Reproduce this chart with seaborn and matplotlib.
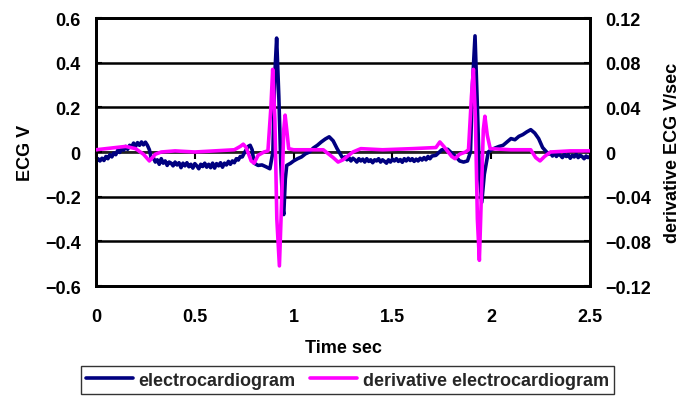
import matplotlib
matplotlib.use("Agg")
import matplotlib.pyplot as plt
import seaborn as sns
import pandas as pd

# ---- data: (time s, value) ----
ecg_beat1 = [
    (0.00, -0.045), (0.01, -0.030), (0.02, -0.040), (0.03, -0.028), (0.04, -0.038), (0.05, -0.020),
    (0.06, -0.030), (0.07, -0.012), (0.08, -0.022), (0.09, -0.005), (0.10, -0.012), (0.11, 0.008),
    (0.12, -0.002), (0.13, 0.018), (0.14, 0.008), (0.15, 0.025), (0.16, 0.012), (0.17, 0.030),
    (0.18, 0.022), (0.19, 0.040), (0.20, 0.025), (0.21, 0.042), (0.22, 0.030), (0.23, 0.045),
    (0.24, 0.032), (0.25, 0.044), (0.26, 0.030), (0.27, 0.010), (0.28, -0.030), (0.29, -0.025),
    (0.30, -0.045), (0.31, -0.035), (0.32, -0.055), (0.33, -0.030), (0.34, -0.050), (0.35, -0.040),
    (0.36, -0.060), (0.37, -0.045), (0.38, -0.050), (0.39, -0.062), (0.40, -0.045), (0.41, -0.058),
    (0.42, -0.048), (0.43, -0.070), (0.44, -0.050), (0.45, -0.062), (0.46, -0.048), (0.47, -0.066),
    (0.48, -0.055), (0.49, -0.072), (0.50, -0.052), (0.51, -0.062), (0.52, -0.075), (0.53, -0.055),
    (0.54, -0.065), (0.55, -0.050), (0.56, -0.068), (0.57, -0.055), (0.58, -0.070), (0.59, -0.050),
    (0.60, -0.072), (0.61, -0.052), (0.62, -0.062), (0.63, -0.048), (0.64, -0.068), (0.65, -0.050),
    (0.66, -0.058), (0.67, -0.042), (0.68, -0.055), (0.69, -0.040), (0.70, -0.048), (0.71, -0.030),
    (0.72, -0.036), (0.73, -0.020), (0.74, -0.022), (0.75, -0.005), (0.76, 0.010), (0.77, 0.025),
    (0.78, 0.030), (0.79, 0.010), (0.80, -0.050), (0.82, -0.060), (0.84, -0.058), (0.86, -0.066),
    (0.88, -0.075), (0.895, 0.000), (0.905, 0.350), (0.914, 0.510), (0.925, 0.250), (0.935, -0.050),
    (0.945, -0.250), (0.950, -0.280), (0.958, -0.120), (0.965, -0.060), (0.975, -0.055),
    (0.985, -0.050), (1.00, -0.040), (1.02, -0.030), (1.04, -0.022), (1.06, -0.008), (1.08, 0.000),
    (1.10, 0.018), (1.12, 0.030), (1.14, 0.045), (1.16, 0.058), (1.18, 0.068), (1.20, 0.050),
    (1.22, 0.015),
]
ecg_beat2 = [
    (1.24, -0.015), (1.25, -0.030), (1.26, -0.022), (1.27, -0.035), (1.28, -0.025), (1.29, -0.040),
    (1.30, -0.028), (1.31, -0.035), (1.32, -0.045), (1.33, -0.030), (1.34, -0.040), (1.35, -0.032),
    (1.36, -0.045), (1.37, -0.030), (1.38, -0.042), (1.39, -0.035), (1.40, -0.048), (1.41, -0.035),
    (1.42, -0.040), (1.43, -0.030), (1.44, -0.045), (1.45, -0.035), (1.46, -0.042), (1.47, -0.050),
    (1.48, -0.035), (1.49, -0.045), (1.50, -0.032), (1.51, -0.040), (1.52, -0.030), (1.53, -0.042),
    (1.54, -0.034), (1.55, -0.046), (1.56, -0.030), (1.57, -0.040), (1.58, -0.028), (1.59, -0.038),
    (1.60, -0.030), (1.61, -0.042), (1.62, -0.032), (1.63, -0.040), (1.64, -0.028), (1.65, -0.036),
    (1.66, -0.025), (1.67, -0.035), (1.68, -0.020), (1.69, -0.030), (1.70, -0.018), (1.72, -0.015),
    (1.75, 0.010), (1.78, 0.012), (1.80, -0.005), (1.82, -0.020), (1.84, -0.040), (1.86, -0.045),
    (1.88, -0.040), (1.895, 0.000), (1.905, 0.300), (1.918, 0.520), (1.93, 0.200), (1.94, -0.100),
    (1.952, -0.225), (1.965, -0.100), (1.985, 0.000), (2.00, 0.010), (2.02, 0.018), (2.04, 0.025),
    (2.06, 0.030), (2.08, 0.045), (2.10, 0.060), (2.12, 0.055), (2.14, 0.070), (2.16, 0.078),
    (2.18, 0.090), (2.20, 0.100), (2.22, 0.085), (2.24, 0.060), (2.26, 0.020), (2.28, 0.000),
    (2.29, -0.010), (2.30, -0.002), (2.31, -0.018), (2.32, -0.005), (2.33, -0.020), (2.34, -0.008),
    (2.35, -0.015), (2.36, -0.025), (2.37, -0.010), (2.38, -0.020), (2.39, -0.012), (2.40, -0.028),
    (2.41, -0.015), (2.42, -0.022), (2.43, -0.010), (2.44, -0.025), (2.45, -0.015), (2.46, -0.020),
    (2.47, -0.030), (2.48, -0.018), (2.49, -0.025), (2.50, -0.020),
]
deriv_points = [
    (0.00, 0.002), (0.05, 0.003), (0.10, 0.004), (0.15, 0.005), (0.20, 0.003), (0.24, -0.002),
    (0.27, -0.008), (0.30, -0.002), (0.33, 0.000), (0.40, 0.001), (0.50, 0.000), (0.60, 0.001),
    (0.70, 0.002), (0.73, 0.005), (0.745, 0.007), (0.76, 0.004), (0.785, -0.008), (0.80, -0.010),
    (0.82, -0.003), (0.85, 0.000), (0.87, 0.001), (0.885, 0.040), (0.894, 0.074), (0.905, 0.030),
    (0.915, -0.060), (0.928, -0.102), (0.94, -0.040), (0.95, 0.020), (0.957, 0.033), (0.965, 0.020),
    (0.975, 0.003), (1.00, 0.002), (1.10, 0.002), (1.15, 0.002), (1.20, -0.005), (1.225, -0.009),
    (1.25, -0.007), (1.30, 0.000), (1.34, 0.003), (1.45, 0.002), (1.60, 0.003), (1.72, 0.004),
    (1.74, 0.009), (1.76, 0.005), (1.80, -0.004), (1.817, -0.006), (1.84, -0.002), (1.87, 0.000),
    (1.885, 0.002), (1.90, 0.050), (1.91, 0.074), (1.92, 0.030), (1.93, -0.060), (1.94, -0.097),
    (1.95, -0.040), (1.96, 0.020), (1.968, 0.032), (1.98, 0.015), (1.995, 0.003), (2.10, 0.002),
    (2.20, 0.002), (2.225, -0.005), (2.247, -0.008), (2.27, -0.004), (2.30, 0.000), (2.40, 0.001),
    (2.50, 0.001),
]

left_ticks = [-0.6, -0.4, -0.2, 0, 0.2, 0.4, 0.6]
left_labels = ["\u22120.6", "\u22120.4", "\u22120.2", "0", "0.2", "0.4", "0.6"]
right_ticks = [-0.12, -0.08, -0.04, 0, 0.04, 0.08, 0.12]
right_labels = ["\u22120.12", "\u22120.08", "\u22120.04", "0", "0.04", "0.08", "0.12"]
x_ticks = [0, 0.5, 1, 1.5, 2, 2.5]
x_labels = ["0", "0.5", "1", "1.5", "2", "2.5"]

# ---- plot ----
sns.set_theme(style="white")
plt.rcParams["font.family"] = ["Liberation Sans", "DejaVu Sans"]
plt.rcParams["font.weight"] = "bold"
FS = 13

fig = plt.figure(figsize=(6.84, 4.06), dpi=100)
ax = fig.add_axes([0.1404, 0.2931, 0.7222, 0.6601])
ax2 = ax.twinx()

df1 = pd.DataFrame(ecg_beat1 + ecg_beat2, columns=["t", "v"])
df2 = pd.DataFrame(deriv_points, columns=["t", "v"])

ax.set_ylim(-0.6, 0.6)
ax.set_xlim(0, 2.5)
ax2.set_ylim(-0.12, 0.12)

for y in left_ticks[1:-1]:
    ax.axhline(y, color="black", lw=1.8, zorder=0)

sns.lineplot(data=df1, x="t", y="v", ax=ax, color="#000080", lw=2.6, sort=False,
             label="electrocardiogram", legend=False, zorder=3)
sns.lineplot(data=df2, x="t", y="v", ax=ax2, color="#FF00FF", lw=2.6, sort=False,
             label="derivative electrocardiogram", legend=False, zorder=4)

ax.set_yticks(left_ticks)
ax.set_yticklabels(left_labels)
ax2.set_yticks(right_ticks)
ax2.set_yticklabels(right_labels)
ax.set_xticks(x_ticks)
ax.set_xticklabels(x_labels)

for a in (ax, ax2):
    for s in a.spines.values():
        s.set_color("black")
        s.set_linewidth(2)
ax.tick_params(axis="x", length=0, pad=16, labelsize=FS, colors="black")
ax.tick_params(axis="y", direction="in", length=4, width=1.5, pad=11, labelsize=FS, colors="black")
ax2.tick_params(axis="y", direction="in", length=4, width=1.5, pad=11, labelsize=FS, colors="black")
for lab in ax.get_xticklabels() + ax.get_yticklabels() + ax2.get_yticklabels():
    lab.set_fontweight("bold")

# x tick marks sitting on the zero line
sec = ax.secondary_xaxis(0.5)
sec.set_xticks(x_ticks)
sec.tick_params(axis="x", direction="in", length=5, width=1.5, labelbottom=False, labeltop=False, colors="black")
sec.spines["bottom"].set_visible(False)

ax.set_xlabel("Time sec", fontsize=FS, fontweight="bold", labelpad=10, color="black")
ax.set_ylabel("ECG V", fontsize=FS, fontweight="bold", labelpad=8, color="black")
ax2.set_ylabel("derivative ECG V/sec", fontsize=FS, fontweight="bold", labelpad=9, color="black")

h1, l1 = ax.get_legend_handles_labels()
h2, l2 = ax2.get_legend_handles_labels()
leg = fig.legend(h1 + h2, l1 + l2, loc="lower center", bbox_to_anchor=(0.508, 0.005), ncol=2,
                 fontsize=FS, frameon=True, fancybox=False, edgecolor="black",
                 handlelength=2.6, handletextpad=0.3, columnspacing=0.8, borderpad=0.3)
leg.get_frame().set_linewidth(1.0)
for txt in leg.get_texts():
    txt.set_fontweight("bold")

fig.savefig("out.png", dpi=100)
